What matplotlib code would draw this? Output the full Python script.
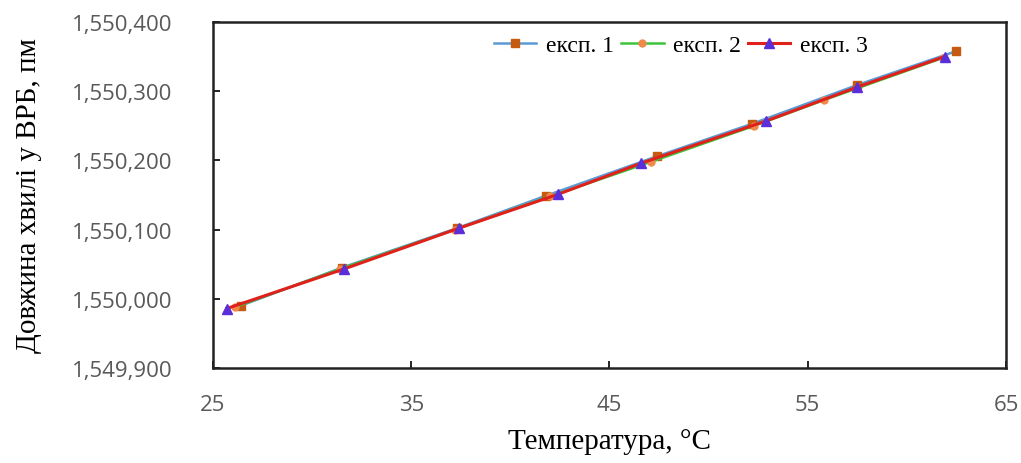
import matplotlib.pyplot as plt
from matplotlib.ticker import FuncFormatter

# температура, °C та довжина хвилі, пм
t_exp1 = [26.4, 31.5, 37.3, 41.8, 47.4, 52.2, 57.5, 62.5]
wl_exp1 = [1549990, 1550045, 1550102, 1550149, 1550206, 1550253, 1550309, 1550358]

t_exp2 = [26.1, 31.4, 37.2, 42.0, 47.1, 52.3, 55.8, 61.8]
wl_exp2 = [1549988, 1550043, 1550100, 1550148, 1550198, 1550250, 1550287, 1550348]

t_exp3 = [25.7, 31.6, 37.4, 42.4, 46.6, 52.9, 57.5, 61.9]
wl_exp3 = [1549986, 1550043, 1550102, 1550151, 1550196, 1550257, 1550306, 1550350]

labels = ['експ. 1', 'експ. 2', 'експ. 3']
x_ticks = [25, 35, 45, 55, 65]
y_ticks = [1549900, 1550000, 1550100, 1550200, 1550300, 1550400]

fig = plt.figure(figsize=(10.21, 4.64), dpi=100)
ax = fig.add_axes([0.2086, 0.2047, 0.7767, 0.7457])

ax.plot(t_exp1, wl_exp1, color='#5B9BD5', lw=1.8, marker='s', ms=6,
        mfc='#C55A11', mec='#C55A11', label=labels[0])
ax.plot(t_exp2, wl_exp2, color='#3CC43C', lw=1.8, marker='o', ms=5,
        mfc='#F08A4B', mec='#F08A4B', label=labels[1])
ax.plot(t_exp3, wl_exp3, color='#E0201B', lw=2.2, marker='^', ms=7,
        mfc='#5A2ED8', mec='#5A2ED8', label=labels[2])

ax.set_xlim(25, 65)
ax.set_ylim(1549900, 1550400)
ax.set_xticks(x_ticks)
ax.set_yticks(y_ticks)
ax.yaxis.set_major_formatter(FuncFormatter(lambda v, p: f'{v:,.0f}'))

ax.tick_params(direction='in', length=5, width=1.2, labelsize=16,
               labelcolor='#595959')
ax.tick_params(axis='y', pad=29)
ax.tick_params(axis='x', pad=19)
for lab in ax.get_xticklabels() + ax.get_yticklabels():
    lab.set_fontfamily('Open Sans')
for s in ax.spines.values():
    s.set_linewidth(1.8)
    s.set_color('#222222')

ax.set_xlabel('Температура, °C', family='Liberation Serif', fontsize=21, labelpad=9)
ax.set_ylabel('Довжина хвилі у ВРБ, пм', family='Liberation Serif', fontsize=21, labelpad=22)

ax.legend(loc='upper center', bbox_to_anchor=(0.59, 1.025), ncol=3, frameon=False,
          prop={'family': 'Liberation Serif', 'size': 17}, handlelength=1.8,
          handletextpad=0.4, columnspacing=0.3)

fig.savefig('out.png', dpi=100)
